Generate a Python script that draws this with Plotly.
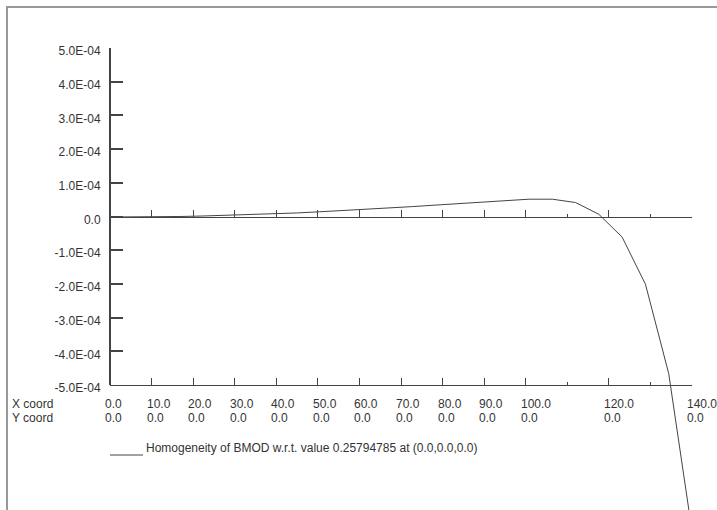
import plotly.graph_objects as go

# Curve data
x_coord = [0.0, 5.6, 11.2, 16.8, 22.4, 28.0, 33.6, 39.2, 44.8, 50.4, 56.0, 61.6, 67.2,
           72.8, 78.4, 84.0, 89.6, 95.2, 100.8, 106.4, 112.0, 117.6, 123.2, 128.8, 134.4, 140.0]
homogeneity = [0.0, 0.0, 0.05e-5, 0.15e-5, 0.3e-5, 0.5e-5, 0.7e-5, 0.95e-5, 1.2e-5, 1.55e-5,
               1.9e-5, 2.3e-5, 2.7e-5, 3.1e-5, 3.55e-5, 4.0e-5, 4.45e-5, 4.9e-5, 5.3e-5, 5.3e-5,
               4.3e-5, 0.8e-5, -6.0e-5, -2.0e-4, -4.66e-4, -9.35e-4]

# Axis ticks / labels
y_ticks = [-5e-4, -4e-4, -3e-4, -2e-4, -1e-4, 0.0, 1e-4, 2e-4, 3e-4, 4e-4, 5e-4]
y_labels = ["-5.0E-04", "-4.0E-04", "-3.0E-04", "-2.0E-04", "-1.0E-04", "0.0",
            "1.0E-04", "2.0E-04", "3.0E-04", "4.0E-04", "5.0E-04"]
x_major = [10, 20, 30, 40, 50, 60, 70, 80, 90, 100, 120, 140]
x_minor = [110, 130]
x_labels = [0, 10, 20, 30, 40, 50, 60, 70, 80, 90, 100, 120, 140]
y_coord_labels = [0.0] * len(x_labels)
legend_text = "Homogeneity of BMOD w.r.t. value 0.25794785 at (0.0,0.0,0.0)"

W, H = 717, 510
LEFT, RIGHT = 110, 25
PW = W - LEFT - RIGHT
Y_TOP, Y_ZERO, Y_BOT = 48, 217, 385          # pixel rows of 5E-4, 0, -5E-4
PX_PER_UNIT = (Y_BOT - Y_ZERO) / 5e-4
INK = "#444444"
FONT = dict(family="Liberation Sans, Arial, sans-serif", size=12, color="#333333")


def py(px):
    return (H - px) / H


def px_x(px):
    return (px - LEFT) / PW


fig = go.Figure()
fig.add_trace(go.Scatter(x=x_coord, y=homogeneity, mode="lines",
                         line=dict(color=INK, width=1), xaxis="x", yaxis="y",
                         hoverinfo="skip", showlegend=False))
# carriers for the framing axes
fig.add_trace(go.Scatter(x=[0], y=[0], mode="lines", xaxis="x", yaxis="y2",
                         hoverinfo="skip", showlegend=False))
fig.add_trace(go.Scatter(x=[0], y=[0], mode="lines", xaxis="x2", yaxis="y",
                         hoverinfo="skip", showlegend=False))

xaxis_common = dict(
    range=[0, 140], showgrid=False, zeroline=False, showline=True,
    linecolor=INK, linewidth=1, ticks="inside", ticklen=7, tickwidth=1,
    tickcolor=INK, tickvals=x_major, showticklabels=False, automargin=False,
    minor=dict(tickvals=x_minor, ticks="inside", ticklen=3, tickcolor=INK, tickwidth=1),
    anchor="free",
)

fig.update_layout(
    width=W, height=H,
    margin=dict(l=LEFT, r=RIGHT, t=0, b=0, autoexpand=False),
    paper_bgcolor="white", plot_bgcolor="rgba(0,0,0,0)",
    font=FONT, showlegend=False,
    xaxis=dict(**xaxis_common, position=py(Y_BOT)),
    xaxis2=dict(**xaxis_common, position=py(Y_ZERO), overlaying="x", matches="x"),
    yaxis=dict(range=[-(H - Y_ZERO) / PX_PER_UNIT, Y_ZERO / PX_PER_UNIT],
               domain=[0, 1], visible=False, automargin=False),
    yaxis2=dict(range=[-5e-4, 5e-4], domain=[py(Y_BOT), py(Y_TOP)],
                anchor="free", position=0, showgrid=False, zeroline=False,
                showline=True, linecolor=INK, linewidth=2, automargin=False,
                ticks="inside", ticklen=12, tickwidth=2, tickcolor=INK,
                tickvals=y_ticks, ticktext=y_labels, ticklabelstandoff=6,
                ticklabelshift=3, tickfont=FONT),
)

annotations = []
for row_text, row_y in (("X coord", 404), ("Y coord", 418)):
    annotations.append(dict(text=row_text, xref="paper", yref="paper",
                            x=px_x(10), y=py(row_y), xanchor="left", yanchor="middle",
                            showarrow=False, font=FONT))
for xv, yv in zip(x_labels, y_coord_labels):
    for val, row_y in ((xv, 404), (yv, 418)):
        annotations.append(dict(text=f"{val:.1f}", xref="x", yref="paper",
                                x=xv, y=py(row_y), xanchor="left", yanchor="middle",
                                xshift=-7, showarrow=False, font=FONT))
annotations.append(dict(text=legend_text, xref="paper", yref="paper",
                        x=px_x(144), y=py(448), xanchor="left", yanchor="middle",
                        showarrow=False, font=FONT))
fig.update_layout(annotations=annotations)

fig.update_layout(shapes=[
    # outer frame
    dict(type="rect", xref="paper", yref="paper",
         x0=px_x(7), x1=1.2, y0=-0.2, y1=py(7),
         line=dict(color="#999999", width=2)),
    # legend swatch
    dict(type="line", xref="paper", yref="paper",
         x0=px_x(110), x1=px_x(143), y0=py(455), y1=py(455),
         line=dict(color=INK, width=1)),
])

fig.write_html("out.html", config={"displayModeBar": False},
               post_script="document.body.style.margin='0';")
